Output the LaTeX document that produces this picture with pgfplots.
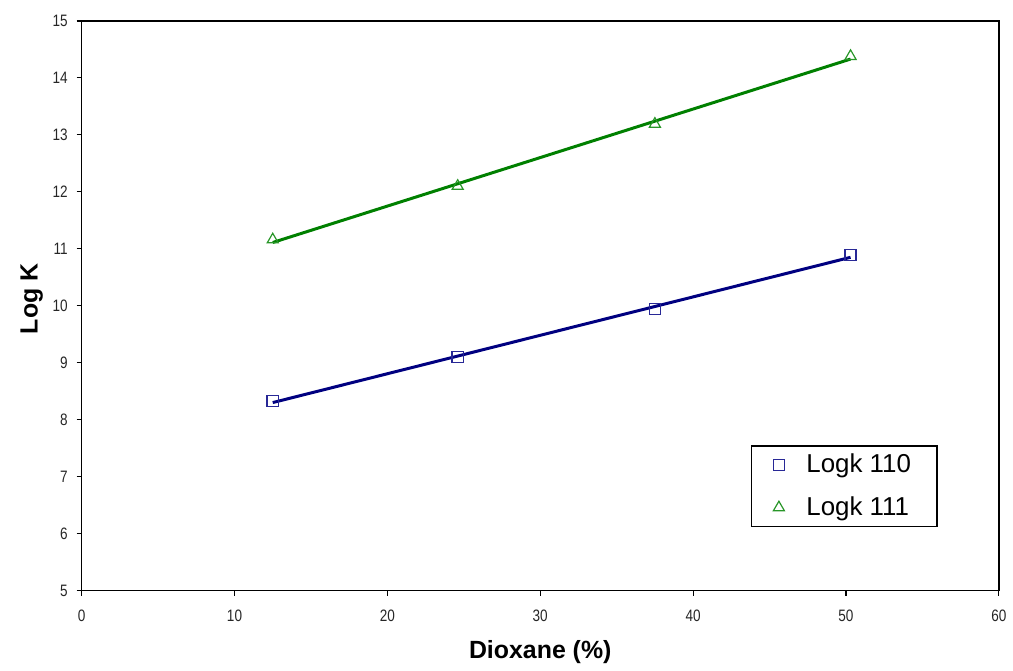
\documentclass[border=0pt]{standalone}
\usepackage{fontspec}
\setmainfont{Liberation Sans}
\newfontfamily\narrowfont[FakeStretch=0.82]{Liberation Sans}
\usepackage{pgfplots}
\pgfplotsset{compat=1.18}
\definecolor{navyline}{RGB}{0,0,128}
\definecolor{navymark}{RGB}{40,40,150}
\definecolor{greenline}{RGB}{0,128,0}
\definecolor{greenmark}{RGB}{40,150,40}
\begin{document}
\begin{tikzpicture}
\begin{axis}[
  scale only axis,
  width=460.5pt, height=286pt,
  xmin=0, xmax=60, ymin=5, ymax=15,
  xtick={0,10,...,60}, ytick={5,6,...,15},
  tick align=outside, tick pos=left,
  major tick length=2.5pt,
  axis line style={line width=0.8pt},
  every tick/.style={black, line width=0.6pt},
  ticklabel style={font=\narrowfont\fontsize{8.3}{9}\selectfont, color=black!85},
  /pgf/number format/assume math mode=true,
  xticklabel style={yshift=-3.5pt},
  yticklabel style={xshift=-1pt},
  xlabel={\textbf{Dioxane (\%)}},
  ylabel={\textbf{Log K}},
  label style={font=\fontsize{12.5}{14}\selectfont},
  xlabel style={at={(axis description cs:0.5,-0.108)}, anchor=center},
  ylabel style={at={(axis description cs:-0.0545,0.512)}, anchor=center},
  legend style={at={(axis cs:56,7.55)}, anchor=north east, draw=black,
    line width=0.8pt, font=\fontsize{13}{15}\selectfont,
    inner xsep=11pt, inner ysep=2pt, row sep=6.5pt,
    /tikz/every odd column/.append style={column sep=9pt}},
  legend cell align=left,
]
% trend lines
\addplot[navyline, line width=1.5pt, forget plot] coordinates {(12.5,8.30) (50.3,10.85)};
\addplot[greenline, line width=1.5pt, forget plot] coordinates {(12.5,11.11) (50.3,14.33)};
% data
\addplot[only marks, mark=square, mark size=2.8pt, mark options={navymark, line width=0.7pt}]
  coordinates {(12.5,8.33) (24.6,9.10) (37.5,9.94) (50.3,10.89)};
\addlegendentry{Logk 110}
\addplot[only marks, mark=triangle, mark size=3.2pt, mark options={greenmark, line width=0.6pt}]
  coordinates {(12.5,11.16) (24.6,12.10) (37.5,13.19) (50.3,14.38)};
\addlegendentry{Logk 111}
\end{axis}
\path ([xshift=-41pt,yshift=-37.5pt]current axis.south west) rectangle ([xshift=5pt,yshift=10.5pt]current axis.north east);
\end{tikzpicture}
\end{document}
